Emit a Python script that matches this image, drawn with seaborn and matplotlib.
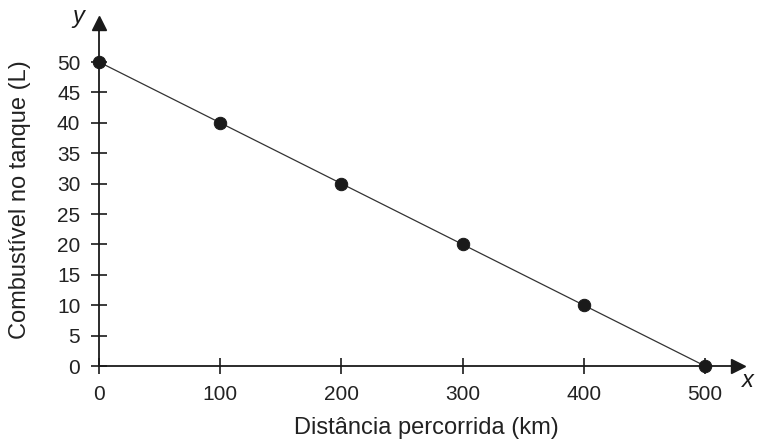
import numpy as np
import pandas as pd
import matplotlib
matplotlib.use('Agg')
import matplotlib.pyplot as plt
import seaborn as sns

# Data
distancia = [0, 100, 200, 300, 400, 500]
combustivel = [50, 40, 30, 20, 10, 0]
x_ticks = [0, 100, 200, 300, 400, 500]
y_ticks = [0, 5, 10, 15, 20, 25, 30, 35, 40, 45, 50]

df = pd.DataFrame({'dist': distancia, 'comb': combustivel})

sns.set_style('white')
plt.rcParams['font.family'] = ['Liberation Sans', 'DejaVu Sans']
ink = '#1a1a1a'

fig = plt.figure(figsize=(7.64, 4.48), dpi=100)
# axes placed so that the spines sit where the reference has them
ax = fig.add_axes([99 / 764, 82 / 448, (738 - 99) / 764, (366 - 23) / 448])

sns.lineplot(data=df, x='dist', y='comb', ax=ax, color='#333333', linewidth=0.9)
sns.scatterplot(data=df, x='dist', y='comb', ax=ax, color=ink, s=80,
                edgecolor=ink, zorder=5, clip_on=False)

ax.set_xlim(0, (738 - 99) / 1.212)
ax.set_ylim(0, (366 - 23) / 6.08)
ax.set_xticks(x_ticks)
ax.set_yticks(y_ticks)

for side in ['top', 'right']:
    ax.spines[side].set_visible(False)
for side in ['left', 'bottom']:
    ax.spines[side].set_color(ink)
    ax.spines[side].set_linewidth(1.3)

ax.tick_params(axis='both', bottom=True, left=True, direction='inout',
               length=11, width=1.2, color=ink, labelcolor='#222222',
               labelsize=15, pad=8)

# arrow heads
ax.plot(1, 0, '>', color=ink, markersize=10, transform=ax.transAxes, clip_on=False)
ax.plot(0, 1, '^', color=ink, markersize=10, transform=ax.transAxes, clip_on=False)
fig.text(748 / 764, 1 - 380 / 448, 'x', style='italic', fontsize=17,
         color=ink, ha='center', va='center')
fig.text(78 / 764, 1 - 16 / 448, 'y', style='italic', fontsize=17,
         color=ink, ha='center', va='center')

ax.set_xlabel('')
ax.set_ylabel('')
fig.text(426 / 764, 1 - 428 / 448, 'Distância percorrida (km)', fontsize=17,
         color='#222222', ha='center', va='center')
fig.text(20 / 764, 1 - 200 / 448, 'Combustível no tanque (L)', fontsize=17,
         color='#222222', ha='center', va='center', rotation=90)

fig.savefig('out.png', dpi=100)
